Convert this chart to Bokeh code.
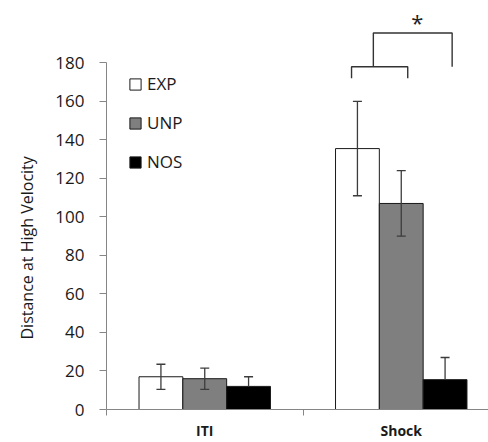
import numpy as np
from bokeh.plotting import figure
from bokeh.models import (ColumnDataSource, Whisker, TeeHead, FixedTicker, Legend,
                          LegendItem, Title, Range1d)
from bokeh.core.properties import value
from bokeh.embed import file_html
from bokeh.resources import INLINE

# ---- data ----
categories = ["ITI", "Shock"]
cat_pos = [0, 1]
series = ["EXP", "UNP", "NOS"]
exp_vals = [17, 135.5]
exp_err = [6.5, 24.5]
unp_vals = [16, 107]
unp_err = [5.5, 17]
nos_vals = [12, 15.5]
nos_err = [5, 11.5]
# NOS error bars are drawn plus-only in the reference
plus_only = [False, False, True]
y_ticks = [0, 20, 40, 60, 80, 100, 120, 140, 160, 180]
y_label = "Distance at High Velocity"
sig_text = "*"
# significance brackets (data coords)
br_low_x = [0.747, 0.747, 1.033, 1.033]
br_low_y = [172, 178, 178, 172]
br_up_x = [0.858, 0.858, 1.259, 1.259]
br_up_y = [178, 195.5, 195.5, 178]
sig_x = [1.082]
sig_y = [201]

FONT = "Open Sans"
offsets = [-0.223, 0.0, 0.223]
bar_w = 0.223
fills = ["#ffffff", "#7f7f7f", "#000000"]
ERR_C = "#3c3c3c"

p = figure(width=488, height=442, output_backend="svg", toolbar_location=None,
           x_range=Range1d(-0.5, 1.444), y_range=Range1d(0, 212.4),
           min_border_left=105, min_border_right=0, min_border_top=0,
           min_border_bottom=32)
p.outline_line_color = None
p.xgrid.visible = False
p.ygrid.visible = False
p.background_fill_color = "white"
p.border_fill_color = "white"

renderers = []
for vals, errs, off, fc, po in zip([exp_vals, unp_vals, nos_vals],
                                   [exp_err, unp_err, nos_err], offsets, fills, plus_only):
    xs = np.array(cat_pos, dtype=float) + off
    v = np.array(vals, dtype=float)
    e = np.array(errs, dtype=float)
    lower = v if po else v - e
    src = ColumnDataSource(dict(x=xs, top=v, upper=v + e, lower=lower))
    r = p.vbar(x="x", top="top", width=bar_w, source=src, fill_color=fc,
               line_color="#1a1a1a", line_width=1)
    renderers.append(r)
    w = Whisker(base="x", upper="upper", lower="lower", source=src,
                line_color=ERR_C, line_width=1.3, level="overlay",
                upper_head=TeeHead(size=9, line_color=ERR_C, line_width=1.3),
                lower_head=None if po else TeeHead(size=9, line_color=ERR_C, line_width=1.3))
    p.add_layout(w)

# significance brackets
p.multi_line(xs=[br_low_x, br_up_x], ys=[br_low_y, br_up_y],
             line_color="#333333", line_width=1.4)
p.text(x=sig_x, y=sig_y, text=[sig_text], text_font=value(FONT),
       text_font_size="22px", text_align="center", text_baseline="alphabetic",
       text_color="#222222")

# axes
ax = p.xaxis[0]
ax.ticker = FixedTicker(ticks=cat_pos, minor_ticks=[-0.5, 0.5, 1.5])
ax.major_label_overrides = {cp: c for cp, c in zip(cat_pos, categories)}
ax.major_tick_out = 0
ax.major_tick_in = 0
ax.minor_tick_out = 6
ax.minor_tick_in = 0
ax.minor_tick_line_color = "#868686"
ax.axis_line_color = "#868686"
ax.major_label_text_font = FONT
ax.major_label_text_font_style = "bold"
ax.major_label_text_font_size = "14px"
ax.major_label_text_color = "#1a1a1a"
ax.major_label_standoff = 5

ay = p.yaxis[0]
ay.ticker = FixedTicker(ticks=y_ticks, minor_ticks=[])
ay.bounds = (0, 180)
ay.major_tick_out = 7
ay.major_tick_in = 0
ay.major_tick_line_color = "#868686"
ay.axis_line_color = "#868686"
ay.major_label_text_font = FONT
ay.major_label_text_font_size = "17px"
ay.major_label_text_color = "#1a1a1a"
ay.major_label_standoff = 15

# y axis title
p.add_layout(Title(text=y_label, align="left", offset=70, vertical_align="middle",
                   text_font=FONT, text_font_size="16px", text_font_style="normal",
                   text_color="#1a1a1a", standoff=28), "left")

legend = Legend(items=[LegendItem(label=s, renderers=[r]) for s, r in zip(series, renderers)],
                location=(22, 236), border_line_color=None, background_fill_alpha=0,
                padding=0, margin=0, glyph_width=14, glyph_height=14,
                label_height=20, spacing=16, label_standoff=5,
                label_text_font=FONT, label_text_font_size="17px",
                label_text_color="#1a1a1a")
p.add_layout(legend)

open("out.html", "w").write(file_html(p, INLINE))
